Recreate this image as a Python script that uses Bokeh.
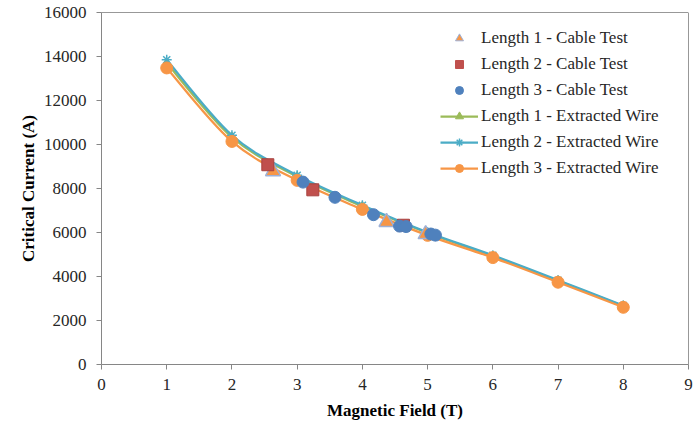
from bokeh.plotting import figure
from bokeh.models import Legend, LegendItem, Span, FixedTicker, ColumnDataSource
from bokeh.embed import file_html
from bokeh.resources import INLINE

# ---- data ----
field_wire = [1, 2, 3, 4, 5, 6, 7, 8]
wire_len1 = [13700, 10330, 8540, 7190, 5980, 4930, 3800, 2660]
wire_len2 = [13850, 10420, 8600, 7240, 6010, 4960, 3830, 2680]
wire_len3 = [13480, 10140, 8370, 7050, 5870, 4860, 3740, 2600]

cable1_x = [2.63, 4.37, 4.97]
cable1_y = [8780, 6470, 5920]
cable2_x = [2.55, 3.24, 4.63]
cable2_y = [9080, 7940, 6330]
cable3_x = [3.09, 3.58, 4.17, 4.57, 4.67, 5.05, 5.12]
cable3_y = [8290, 7600, 6810, 6290, 6270, 5930, 5880]

x_ticks = [0, 1, 2, 3, 4, 5, 6, 7, 8, 9]
y_ticks = [0, 2000, 4000, 6000, 8000, 10000, 12000, 14000, 16000]

FONT = "'Liberation Serif', 'Times New Roman', serif"
FS = "17px"

p = figure(width=695, height=422, output_backend="svg", toolbar_location=None,
           x_range=(0, 9), y_range=(0, 16000),
           min_border_left=101, min_border_right=7, min_border_top=12, min_border_bottom=56)
p.outline_line_color = None
p.xgrid.visible = False
p.ygrid.visible = False

for ax, ticks in ((p.xaxis[0], x_ticks), (p.yaxis[0], y_ticks)):
    ax.ticker = FixedTicker(ticks=ticks)
    ax.axis_line_color = "#868686"
    ax.major_tick_line_color = "#868686"
    ax.major_tick_out = 5
    ax.major_tick_in = 0
    ax.minor_tick_line_color = None
    ax.major_label_text_font = FONT
    ax.major_label_text_font_size = FS
    ax.major_label_text_color = "#262626"
    ax.axis_label_text_font = FONT
    ax.axis_label_text_font_size = FS
    ax.axis_label_text_font_style = "bold"
    ax.axis_label_text_color = "#000000"

p.xaxis.axis_label = "Magnetic Field (T)"
p.yaxis.axis_label = "Critical Current (A)"
p.yaxis.major_label_standoff = 10
p.xaxis.major_label_standoff = 9
p.yaxis.axis_label_standoff = 3
p.xaxis.axis_label_standoff = 8

p.add_layout(Span(location=16000, dimension="width", line_color="#333333", line_width=1))
p.add_layout(Span(location=9, dimension="height", line_color="#333333", line_width=1))


def smooth(xs, ys):
    n = len(xs)
    x0, y0, x1, y1, cx0, cy0, cx1, cy1 = [], [], [], [], [], [], [], []
    for i in range(n - 1):
        im = max(i - 1, 0)
        ip = min(i + 2, n - 1)
        x0.append(xs[i]); y0.append(ys[i])
        x1.append(xs[i + 1]); y1.append(ys[i + 1])
        cx0.append(xs[i] + (xs[i + 1] - xs[im]) / 6)
        cy0.append(ys[i] + (ys[i + 1] - ys[im]) / 6)
        cx1.append(xs[i + 1] - (xs[ip] - xs[i]) / 6)
        cy1.append(ys[i + 1] - (ys[ip] - ys[i]) / 6)
    return ColumnDataSource(dict(x0=x0, y0=y0, x1=x1, y1=y1, cx0=cx0, cy0=cy0, cx1=cx1, cy1=cy1))


GREEN = "#9BBB59"
TEAL = "#4BACC6"
ORANGE = "#F79646"
RED = "#C0504D"
BLUE = "#4F81BD"
TRI_EDGE = "#9DB0D6"

# extracted wire curves
lw = 2.25
b1 = p.bezier(x0="x0", y0="y0", x1="x1", y1="y1", cx0="cx0", cy0="cy0", cx1="cx1", cy1="cy1",
              source=smooth(field_wire, wire_len1), line_color=GREEN, line_width=lw)
m1 = p.scatter(field_wire, wire_len1, marker="triangle", size=9, fill_color=GREEN, line_color=GREEN)
b2 = p.bezier(x0="x0", y0="y0", x1="x1", y1="y1", cx0="cx0", cy0="cy0", cx1="cx1", cy1="cy1",
              source=smooth(field_wire, wire_len2), line_color=TEAL, line_width=lw)
m2 = p.scatter(field_wire, wire_len2, marker="asterisk", size=10, line_color=TEAL, line_width=1.5)
b3 = p.bezier(x0="x0", y0="y0", x1="x1", y1="y1", cx0="cx0", cy0="cy0", cx1="cx1", cy1="cy1",
              source=smooth(field_wire, wire_len3), line_color=ORANGE, line_width=lw)
m3 = p.scatter(field_wire, wire_len3, marker="circle", size=12, fill_color=ORANGE, line_color=ORANGE)

# cable test markers (drawn on top)
r_c1 = p.scatter(cable1_x, cable1_y, marker="triangle", size=15, fill_color=ORANGE,
                 line_color=TRI_EDGE, line_width=1.5)
r_c2 = p.scatter(cable2_x, cable2_y, marker="square", size=12, fill_color=RED,
                 line_color="#A8413E", line_width=1)
r_c3 = p.scatter(cable3_x, cable3_y, marker="circle", size=12, fill_color=BLUE,
                 line_color=BLUE, line_width=1)

# legend proxies (lines with markers)
l1 = p.line([0], [0], line_color=GREEN, line_width=lw, visible=False)
l2 = p.line([0], [0], line_color=TEAL, line_width=lw, visible=False)
l3 = p.line([0], [0], line_color=ORANGE, line_width=lw, visible=False)
s1 = p.scatter([0], [0], marker="triangle", size=11, fill_color=GREEN, line_color=GREEN, visible=False)
s2 = p.scatter([0], [0], marker="asterisk", size=11, line_color=TEAL, line_width=1.5, visible=False)
s3 = p.scatter([0], [0], marker="circle", size=11, fill_color=ORANGE, line_color=ORANGE, visible=False)
c1 = p.scatter([0], [0], marker="triangle", size=11, fill_color=ORANGE, line_color=TRI_EDGE, visible=False)
c2 = p.scatter([0], [0], marker="square", size=10, fill_color=RED, line_color=RED, visible=False)
c3 = p.scatter([0], [0], marker="circle", size=10, fill_color=BLUE, line_color=BLUE, visible=False)

legend = Legend(items=[
    LegendItem(label="Length 1 - Cable Test", renderers=[c1]),
    LegendItem(label="Length 2 - Cable Test", renderers=[c2]),
    LegendItem(label="Length 3 - Cable Test", renderers=[c3]),
    LegendItem(label="Length 1 - Extracted Wire", renderers=[l1, s1]),
    LegendItem(label="Length 2 - Extracted Wire", renderers=[l2, s2]),
    LegendItem(label="Length 3 - Extracted Wire", renderers=[l3, s3]),
], location=(339, 186))
legend.border_line_color = None
legend.background_fill_alpha = 0
legend.padding = 0
legend.margin = 0
legend.spacing = 6
legend.glyph_width = 38
legend.glyph_height = 20
legend.label_height = 20
legend.label_standoff = 3
legend.label_text_font = FONT
legend.label_text_font_size = FS
legend.label_text_color = "#262626"
p.add_layout(legend, "center")

open("out.html", "w").write(file_html(p, INLINE))
